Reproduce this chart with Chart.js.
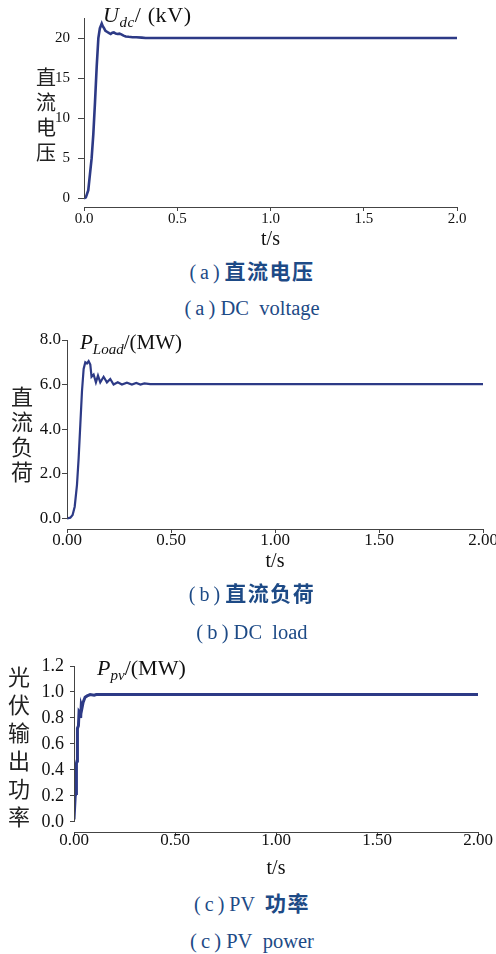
<!DOCTYPE html>
<html><head><meta charset="utf-8">
<script src="https://cdn.jsdelivr.net/npm/chart.js@4"></script>
<style>
body{margin:0;background:#fff;width:496px;height:954px;position:relative;overflow:hidden;font-family:'Liberation Serif',serif;}
.box{position:absolute;left:0;width:496px;}
.ylab{position:absolute;font-family:'Noto Sans CJK SC',sans-serif;color:#222;text-align:center;width:30px;}
.unit{position:absolute;font-family:'Liberation Serif',serif;font-size:22px;color:#111;white-space:nowrap;line-height:22px;}
.unit sub{font-size:15px;vertical-align:-5px;line-height:0;}
.cap{position:absolute;left:0;width:504px;text-align:center;color:#1d4a86;white-space:nowrap;line-height:24px;}
.cn{font-family:'Liberation Serif',serif;font-size:20px;}
.cn b{font-family:'Noto Sans CJK SC',sans-serif;font-weight:bold;font-size:21px;letter-spacing:1.5px;}
.en{font-family:'Liberation Serif',serif;font-size:20.5px;}
</style></head>
<body>
<div class="box" style="top:0;height:253px"><canvas id="c1"></canvas></div>
<div class="box" style="top:320px;height:255px"><canvas id="c2"></canvas></div>
<div class="box" style="top:640px;height:245px"><canvas id="c3"></canvas></div>

<div class="ylab" style="left:31px;top:64px;font-size:20px;line-height:25px">直<br>流<br>电<br>压</div>
<div class="ylab" style="left:7px;top:383px;font-size:22px;line-height:25px">直<br>流<br>负<br>荷</div>
<div class="ylab" style="left:4px;top:661px;font-size:22px;line-height:28px">光<br>伏<br>输<br>出<br>功<br>率</div>

<div class="unit" style="left:103px;top:4px;letter-spacing:0.6px"><i>U</i><sub><i>dc</i></sub>/ (kV)</div>
<div class="unit" style="left:80px;top:331px;font-size:21px"><i>P</i><sub><i>Load</i></sub>/(MW)</div>
<div class="unit" style="left:97px;top:657px"><i>P</i><sub><i>pv</i></sub>/(MW)</div>

<div class="cap cn" style="top:258px">(&thinsp;a&thinsp;) <b>直流电压</b></div>
<div class="cap en" style="top:296px">(&thinsp;a&thinsp;) DC&nbsp; voltage</div>
<div class="cap cn" style="top:580px">(&thinsp;b&thinsp;) <b>直流负荷</b></div>
<div class="cap en" style="top:620px">(&thinsp;b&thinsp;) DC&nbsp; load</div>
<div class="cap cn" style="top:890px">(&thinsp;c&thinsp;) PV&nbsp; <b>功率</b></div>
<div class="cap en" style="top:929px">(&thinsp;c&thinsp;) PV&nbsp; power</div>

<script>
// ---- data ----
const xTicks = [0, 0.5, 1.0, 1.5, 2.0];

const tUdc = [0, 0.01, 0.023, 0.032, 0.041, 0.05, 0.059, 0.068, 0.077, 0.085, 0.095, 0.1, 0.108, 0.115, 0.125, 0.135, 0.143, 0.152, 0.16, 0.17, 0.179, 0.19, 0.2, 0.212, 0.224, 0.24, 0.26, 0.28, 0.31, 0.33, 2.0];
const vUdc = [0, 0.1, 1, 3, 5, 8, 12, 16.4, 20, 21.2, 21.8, 21.5, 21.2, 20.9, 20.75, 20.6, 20.5, 20.65, 20.7, 20.55, 20.5, 20.55, 20.45, 20.3, 20.2, 20.15, 20.1, 20.1, 20.05, 20.0, 20.0];
const yTicksUdc = [0, 5, 10, 15, 20];

const tLoad = [0, 0.016, 0.027, 0.037, 0.048, 0.056, 0.064, 0.072, 0.08, 0.088, 0.096, 0.104, 0.112, 0.118, 0.128, 0.139, 0.149, 0.16, 0.176, 0.192, 0.208, 0.224, 0.244, 0.264, 0.288, 0.312, 0.333, 0.353, 0.372, 0.4, 2.0];
const vLoad = [0, 0.03, 0.15, 0.52, 1.5, 2.7, 4.2, 5.7, 6.7, 7.0, 6.95, 7.05, 6.9, 6.35, 6.45, 6.1, 6.4, 6.1, 6.35, 6.1, 6.25, 6.0, 6.1, 6.0, 6.08, 6.0, 6.07, 6.0, 6.05, 6.02, 6.02];
const yTicksLoad = [0, 2, 4, 6, 8];

const tPv = [0, 0.004, 0.006, 0.01, 0.012, 0.015, 0.017, 0.022, 0.025, 0.03, 0.033, 0.036, 0.04, 0.045, 0.05, 0.055, 0.065, 0.08, 0.1, 0.11, 2.0];
const vPv = [0.02, 0.02, 0.2, 0.22, 0.45, 0.47, 0.72, 0.74, 0.85, 0.84, 0.8, 0.9, 0.88, 0.92, 0.94, 0.96, 0.97, 0.98, 0.975, 0.98, 0.98];
const yTicksPv = [0, 0.2, 0.4, 0.6, 0.8, 1.0, 1.2];

// ---- helpers ----
const AXIS = '#444';
const LINE = '#2d3a86';

const yAxisLine = {
  id: 'yAxisLine',
  afterDraw(chart) {
    const {ctx, chartArea} = chart;
    const y = chart.scales.y;
    const x = Math.round(chartArea.left) + 0.5;
    ctx.save();
    ctx.strokeStyle = AXIS; ctx.lineWidth = 1;
    ctx.beginPath();
    ctx.moveTo(x, chartArea.top);
    ctx.lineTo(x, y.getPixelForValue(0));
    ctx.stroke();
    ctx.restore();
  }
};

function make(id, c) {
  const pts = c.t.map((t, i) => ({x: t, y: c.v[i]}));
  new Chart(document.getElementById(id), {
    type: 'line',
    data: {datasets: [{data: pts, borderColor: LINE, borderWidth: c.lw, pointRadius: 0, tension: 0, fill: false}]},
    options: {
      responsive: true, maintainAspectRatio: false, animation: false,
      layout: {padding: {top: c.top, right: c.right, left: 0, bottom: 0}},
      plugins: {legend: {display: false}, tooltip: {enabled: false}},
      scales: {
        x: {
          type: 'linear', min: 0, max: 2,
          afterBuildTicks: s => { s.ticks = xTicks.map(v => ({value: v})); },
          afterFit: s => { s.height = c.xh; },
          ticks: {font: {family: 'Liberation Serif', size: c.xfs}, color: '#111', padding: c.xpad, maxRotation: 0,
                  callback: v => Number(v).toFixed(c.xdec)},
          grid: {drawOnChartArea: false, tickLength: 4, color: AXIS, tickColor: AXIS},
          border: {display: true, color: AXIS, width: 1},
          title: {display: true, text: 't/s', font: {family: 'Liberation Serif', size: 20}, color: '#111', padding: {top: 0, bottom: c.tpb}}
        },
        y: {
          type: 'linear', min: c.ymin, max: c.ymax,
          afterBuildTicks: s => { s.ticks = c.yt.map(v => ({value: v})); },
          afterFit: s => { s.width = c.yw; },
          ticks: {font: {family: 'Liberation Serif', size: c.yfs}, color: '#111', padding: c.ypad,
                  callback: v => Number(v).toFixed(c.ydec)},
          grid: {drawOnChartArea: false, tickLength: c.ytl, color: AXIS, tickColor: AXIS},
          border: {display: false}
        }
      }
    },
    plugins: [yAxisLine]
  });
}

make('c1', {t: tUdc, v: vUdc, yt: yTicksUdc, ymin: -1.1, ymax: 22.5, ydec: 0, xdec: 1,
  top: 18, right: 39, yw: 84, xh: 46, xfs: 15, yfs: 15, xpad: -1, ypad: 8, ytl: 6, tpb: 1, lw: 2.6});
make('c2', {t: tLoad, v: vLoad, yt: yTicksLoad, ymin: -0.48, ymax: 8, ydec: 1, xdec: 2,
  top: 20, right: 13, yw: 67, xh: 46, xfs: 17, yfs: 17, xpad: -3, ypad: 1, ytl: 5, tpb: 1, lw: 2.2});
make('c3', {t: tPv, v: vPv, yt: yTicksPv, ymin: -0.077, ymax: 1.2, ydec: 1, xdec: 2,
  top: 26, right: 18, yw: 74, xh: 53, xfs: 17, yfs: 18, xpad: -6, ypad: 6, ytl: 4, tpb: 4, lw: 3});
</script>
</body></html>
